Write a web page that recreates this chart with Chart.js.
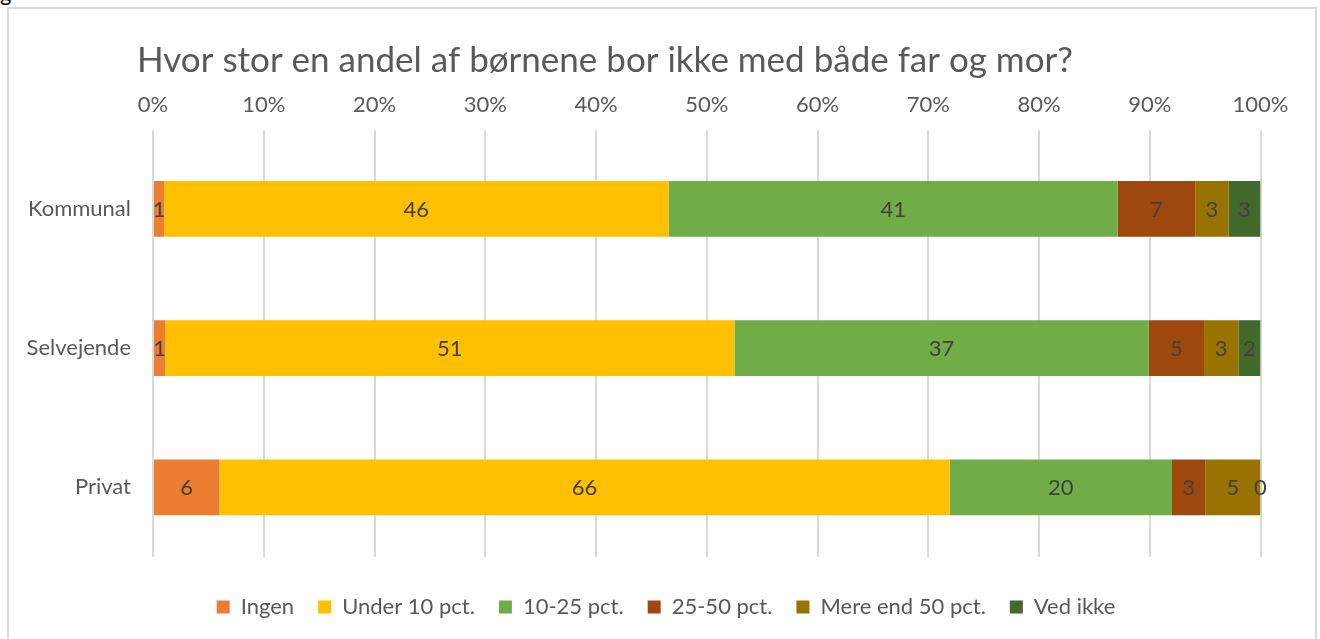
<!DOCTYPE html>
<html>
<head>
<meta charset="utf-8">
<script src="https://cdn.jsdelivr.net/npm/chart.js@4"></script>
<style>
  html, body { margin: 0; padding: 0; background: #ffffff; overflow: hidden; }
  #frame { position: absolute; left: 7px; top: 7px; width: 1310px; height: 700px;
           box-sizing: border-box; border: 2px solid #d9d9d9; pointer-events: none; }
  #frag { position: absolute; left: 0px; top: -18px; font: 22px/22px Lato, sans-serif; color: #000; }
  #c { position: absolute; left: 0; top: 0; }
</style>
</head>
<body>
<div id="frag">g</div>
<div id="frame"></div>
<canvas id="c" width="1320" height="639"></canvas>
<script>
// ---- data ----
const chartTitle = 'Hvor stor en andel af børnene bor ikke med både far og mor?';
const categories = ['Kommunal', 'Selvejende', 'Privat'];
const seriesNames = ['Ingen', 'Under 10 pct.', '10-25 pct.', '25-50 pct.', 'Mere end 50 pct.', 'Ved ikke'];
const ingen    = [1.0, 1.1, 6.0];
const under10  = [45.6, 51.4, 66.0];
const p10to25  = [40.6, 37.4, 20.1];
const p25to50  = [7.0, 5.0, 3.0];
const over50   = [3.0, 3.1, 5.0];
const vedIkke  = [2.9, 2.0, 0];
const tickValues = [0, 10, 20, 30, 40, 50, 60, 70, 80, 90, 100];
const seriesColors = ['#ED7D31', '#FFC000', '#70AD47', '#9E480E', '#997300', '#43682B'];

const rawSeries = [ingen, under10, p10to25, p25to50, over50, vedIkke];
const totals = categories.map((_, i) => rawSeries.reduce((s, arr) => s + arr[i], 0));

const FONT = 'Lato, sans-serif';
const TXT = '#595959';

const datasets = rawSeries.map((arr, k) => ({
  label: seriesNames[k],
  data: arr.map((v, i) => v / totals[i] * 100),
  raw: arr,
  backgroundColor: seriesColors[k],
  borderWidth: 0,
  barPercentage: 0.4,
  categoryPercentage: 1.0
}));

const dataLabels = {
  id: 'dataLabels',
  afterDatasetsDraw(chart) {
    const ctx = chart.ctx;
    ctx.save();
    ctx.font = '22px ' + FONT;
    ctx.fillStyle = '#404040';
    ctx.textAlign = 'center';
    ctx.textBaseline = 'middle';
    chart.data.datasets.forEach((ds, k) => {
      const meta = chart.getDatasetMeta(k);
      meta.data.forEach((el, i) => {
        const cx = (el.x + el.base) / 2;
        ctx.fillText(String(Math.round(ds.raw[i])), cx, el.y + 1);
      });
    });
    ctx.restore();
  }
};

const titleText = {
  id: 'titleText',
  afterDraw(chart) {
    const ctx = chart.ctx;
    ctx.save();
    ctx.font = '35px ' + FONT;
    ctx.fillStyle = TXT;
    ctx.textAlign = 'left';
    ctx.textBaseline = 'alphabetic';
    ctx.fillText(chartTitle, 137, 72);
    ctx.restore();
  }
};

const legendNudge = {
  id: 'legendNudge',
  afterLayout(chart) {
    const lg = chart.legend;
    lg.left = 12; lg.right = chart.width; lg.width = chart.width - 12;
    lg.top += 15; lg.bottom += 15;
  }
};

new Chart(document.getElementById('c'), {
  type: 'bar',
  data: { labels: categories, datasets },
  options: {
    indexAxis: 'y',
    responsive: false,
    animation: false,
    devicePixelRatio: 1,
    layout: { padding: { left: 0, right: 59.5, top: 0, bottom: 26 } },
    scales: {
      x: {
        position: 'top',
        stacked: true,
        min: 0, max: 100,
        afterBuildTicks(scale) { scale.ticks = tickValues.map(v => ({ value: v })); },
        afterFit(scale) { scale.height = 139.3; },
        ticks: {
          callback: v => v + '%',
          color: TXT,
          font: { family: FONT, size: 22 },
          padding: 12,
          maxRotation: 0
        },
        grid: { color: '#d9d9d9', lineWidth: 2, drawTicks: true, tickLength: 9, tickColor: '#d9d9d9' },
        border: { display: false }
      },
      y: {
        stacked: true,
        afterFit(scale) { scale.width = 153; },
        ticks: { color: TXT, font: { family: FONT, size: 22 }, padding: 22 },
        grid: { display: false, drawTicks: false },
        border: { display: false }
      }
    },
    plugins: {
      legend: {
        position: 'bottom',
        labels: {
          color: TXT,
          font: { family: FONT, size: 22 },
          boxWidth: 13, boxHeight: 13,
          padding: 24
        }
      },
      tooltip: { enabled: false },
      title: { display: false }
    }
  },
  plugins: [dataLabels, titleText, legendNudge]
});
</script>
</body>
</html>
